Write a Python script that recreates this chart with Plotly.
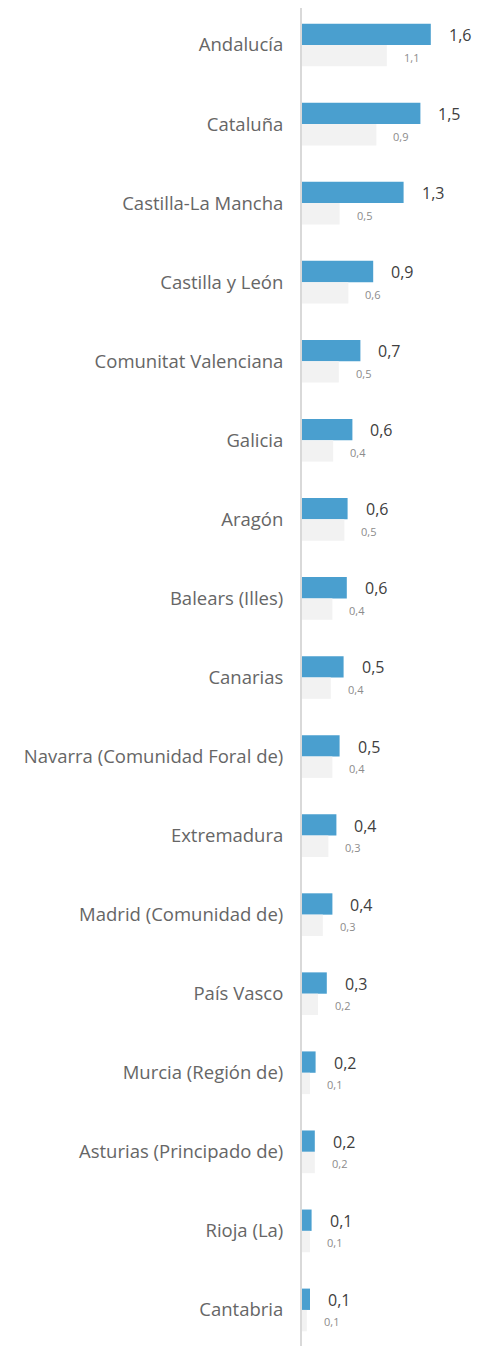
import plotly.graph_objects as go

# regions, top to bottom
regiones = [
    "Andalucía", "Cataluña", "Castilla-La Mancha", "Castilla y León",
    "Comunitat Valenciana", "Galicia", "Aragón", "Balears (Illes)",
    "Canarias", "Navarra (Comunidad Foral de)", "Extremadura",
    "Madrid (Comunidad de)", "País Vasco", "Murcia (Región de)",
    "Asturias (Principado de)", "Rioja (La)", "Cantabria",
]
# blue series (current) and grey series (previous)
actual = [1.61, 1.48, 1.27, 0.89, 0.73, 0.63, 0.57, 0.56, 0.52, 0.47,
          0.43, 0.38, 0.31, 0.17, 0.16, 0.12, 0.10]
anterior = [1.06, 0.93, 0.47, 0.58, 0.46, 0.39, 0.53, 0.38, 0.36, 0.38,
            0.33, 0.26, 0.20, 0.10, 0.16, 0.10, 0.06]


def fmt(v):
    return f"{v:.1f}".replace(".", ",")


fig = go.Figure()
fig.add_trace(go.Bar(y=regiones, x=actual, orientation="h",
                     marker=dict(color="#4a9fcf", line=dict(width=0)),
                     hoverinfo="skip"))
fig.add_trace(go.Bar(y=regiones, x=anterior, orientation="h",
                     marker=dict(color="#f2f2f2", line=dict(width=0)),
                     hoverinfo="skip"))

# value labels, a bit off the bar end like in the original
for r, a, b in zip(regiones, actual, anterior):
    fig.add_annotation(x=a, y=r, text=fmt(a), showarrow=False,
                       xanchor="left", xshift=16, yshift=10,
                       font=dict(family="Open Sans", size=16, color="#404040"))
    fig.add_annotation(x=b, y=r, text=fmt(b), showarrow=False,
                       xanchor="left", xshift=15, yshift=-12,
                       font=dict(family="Open Sans", size=11, color="#8c8c8c"))

# page body has an 8px margin, so the figure is 8px smaller
fig.update_layout(
    width=474, height=1338,
    margin=dict(l=294, r=0, t=0, b=0),
    barmode="group", bargap=0.46, bargroupgap=0,
    showlegend=False,
    plot_bgcolor="white", paper_bgcolor="white",
)
fig.update_xaxes(range=[0, 2.25], visible=False, fixedrange=True)
# reversed category axis, nudged up a little so rows line up with the original
fig.update_yaxes(range=[16.456, -0.468], showgrid=False, zeroline=False,
                 showline=True, linecolor="#d9d9d9", linewidth=2,
                 ticks="", ticklabelstandoff=13, automargin=False,
                 tickfont=dict(family="Open Sans", size=18.5, color="#666666"),
                 fixedrange=True)

fig.write_html("out.html")
